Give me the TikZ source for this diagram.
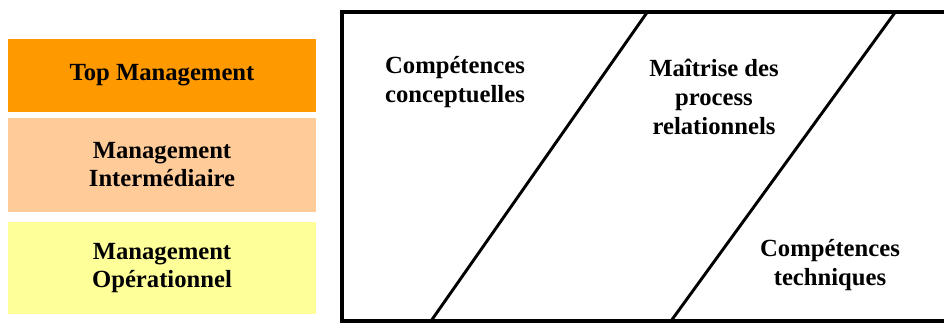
\documentclass[tikz,border=0pt]{standalone}
\usepackage{fontspec}
\setmainfont{Liberation Serif}
\usetikzlibrary{positioning}

\definecolor{topcol}{HTML}{FF9900}
\definecolor{midcol}{HTML}{FFCC99}
\definecolor{opcol}{HTML}{FFFF99}

\begin{document}
\begin{tikzpicture}[
    x=0.75pt, y=-0.75pt,
    lvl/.style={rectangle, align=center, minimum width=231pt, inner sep=0pt,
                font=\fontsize{18.5}{21}\selectfont\bfseries},
    skill/.style={align=center, font=\fontsize{18.5}{22}\selectfont\bfseries},
    frame/.style={line width=3pt},
    split/.style={line width=2.2pt}
]
\useasboundingbox (0,0) rectangle (944,324);

% niveaux de management
\node[lvl, fill=topcol, minimum height=54.75pt] (top) at (162,75.5) {Top Management};
\node[lvl, fill=midcol, minimum height=70.5pt]  (mid) at (162,165) {Management\\Intermédiaire};
\node[lvl, fill=opcol,  minimum height=69pt]    (op)  at (162,268) {Management\\Opérationnel};

% cadre des compétences
\draw[frame] (950,12.5) -- (342,12.5) -- (342,321) -- (950,321);
\coordinate (a1) at (647,12.5);
\coordinate (a2) at (431,321);
\coordinate (b1) at (895,12.5);
\coordinate (b2) at (671,321);
\draw[split] (a1) -- (a2);
\draw[split] (b1) -- (b2);

\node[skill] (concept) at (455,82)  {Compétences\\conceptuelles};
\node[skill] (relat)   at (714,97)  {Maîtrise des\\process\\relationnels};
\node[skill] (tech)    at (830,265) {Compétences\\techniques};
\end{tikzpicture}
\end{document}
